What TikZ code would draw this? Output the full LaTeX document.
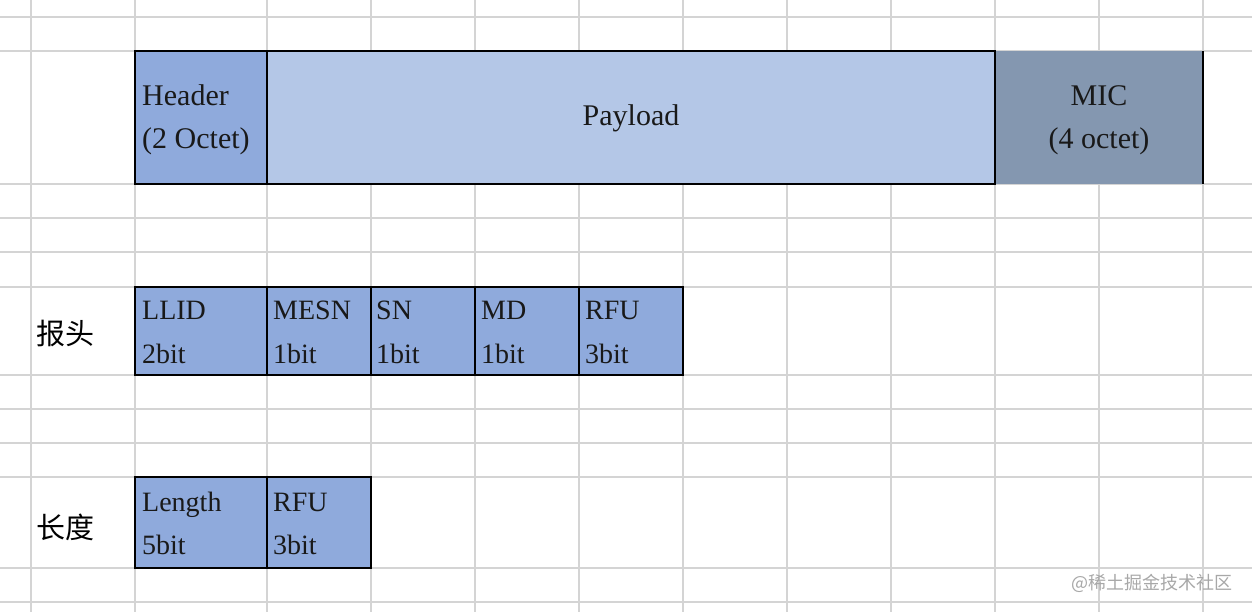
\documentclass[tikz,border=0pt]{standalone}
\usepackage{fontspec}
\setmainfont{Liberation Serif}
\newfontfamily\cjk{Noto Sans CJK SC}
\definecolor{gridc}{HTML}{D4D4D4}
\definecolor{hdrc}{HTML}{8FAADC}
\definecolor{payc}{HTML}{B4C7E7}
\definecolor{micc}{HTML}{8497B0}
\definecolor{wmc}{HTML}{A8A8A8}
\begin{document}
\begin{tikzpicture}[x=1pt,y=-1pt,
  gridline/.style={draw=gridc,line width=1.4pt},
  cell/.style={rectangle,inner sep=0pt,outer sep=0pt,draw=black,line width=2.2pt},
  toptext/.style={inner sep=0pt,font=\fontsize{30}{44}\selectfont,text=black!90},
  bittext/.style={inner sep=0pt,anchor=base west,font=\fontsize{28}{44}\selectfont,text=black!90},
  cjklabel/.style={inner sep=0pt,font=\cjk\fontsize{29}{34}\selectfont},
  watermark/.style={inner sep=0pt,font=\cjk\fontsize{18}{20}\selectfont,text=wmc}]
\useasboundingbox (0,0) rectangle (1252,612);
\fill[white] (0,0) rectangle (1252,612);
% spreadsheet grid
\foreach \gx in {31,135,267,371,475,579,683,787,891,995,1099,1203}
  \draw[gridline] (\gx,0) -- (\gx,612);
\foreach \gy in {17,51,184,218,252,287,375,409,443,477,568,602}
  \draw[gridline] (0,\gy) -- (1252,\gy);
% frame row
\node[cell,fill=payc,minimum width=728pt,minimum height=133pt] (payload) at (631,117.5) {};
\node[cell,fill=hdrc,minimum width=132pt,minimum height=133pt] (header) at (201,117.5) {};
\node[cell,draw=none,fill=micc,minimum width=208pt,minimum height=133pt] (mic) at (1099,117.5) {};
\draw[black,line width=2.2pt] (mic.north west) -- (mic.south west);
\draw[black,line width=2.2pt] (mic.north east) -- (mic.south east);
\node[toptext,anchor=base west] (th1) at (142,106) {Header};
\node[toptext,anchor=base west] (th2) at (142,149) {(2 Octet)};
\node[toptext,anchor=base] (tp) at (631,126) {Payload};
\node[toptext,anchor=base] (tm1) at (1099,106) {MIC};
\node[toptext,anchor=base] (tm2) at (1099,149) {(4 octet)};
% header row
\node[cjklabel] (bt) at (65,334) {报头};
\node[cell,fill=hdrc,minimum width=132pt,minimum height=88pt] (llid) at (201,331) {};
\node[cell,fill=hdrc,minimum width=104pt,minimum height=88pt] (mesn) at (319,331) {};
\node[cell,fill=hdrc,minimum width=104pt,minimum height=88pt] (sn) at (423,331) {};
\node[cell,fill=hdrc,minimum width=104pt,minimum height=88pt] (md) at (527,331) {};
\node[cell,fill=hdrc,minimum width=104pt,minimum height=88pt] (rfu1) at (631,331) {};
\node[bittext] (l1a) at (142,319) {LLID};
\node[bittext] (l1b) at (142,363) {2bit};
\node[bittext] (l2a) at (273,319) {MESN};
\node[bittext] (l2b) at (273,363) {1bit};
\node[bittext] (l3a) at (376,319) {SN};
\node[bittext] (l3b) at (376,363) {1bit};
\node[bittext] (l4a) at (481,319) {MD};
\node[bittext] (l4b) at (481,363) {1bit};
\node[bittext] (l5a) at (585,319) {RFU};
\node[bittext] (l5b) at (585,363) {3bit};
% length row
\node[cjklabel] (cd) at (65,527) {长度};
\node[cell,fill=hdrc,minimum width=132pt,minimum height=91pt] (len) at (201,522.5) {};
\node[cell,fill=hdrc,minimum width=104pt,minimum height=91pt] (rfu2) at (319,522.5) {};
\node[bittext] (m1a) at (142,511) {Length};
\node[bittext] (m1b) at (142,554) {5bit};
\node[bittext] (m2a) at (273,511) {RFU};
\node[bittext] (m2b) at (273,554) {3bit};
% watermark
\node[watermark] (wm) at (1152,583) {@稀土掘金技术社区};
\end{tikzpicture}
\end{document}
